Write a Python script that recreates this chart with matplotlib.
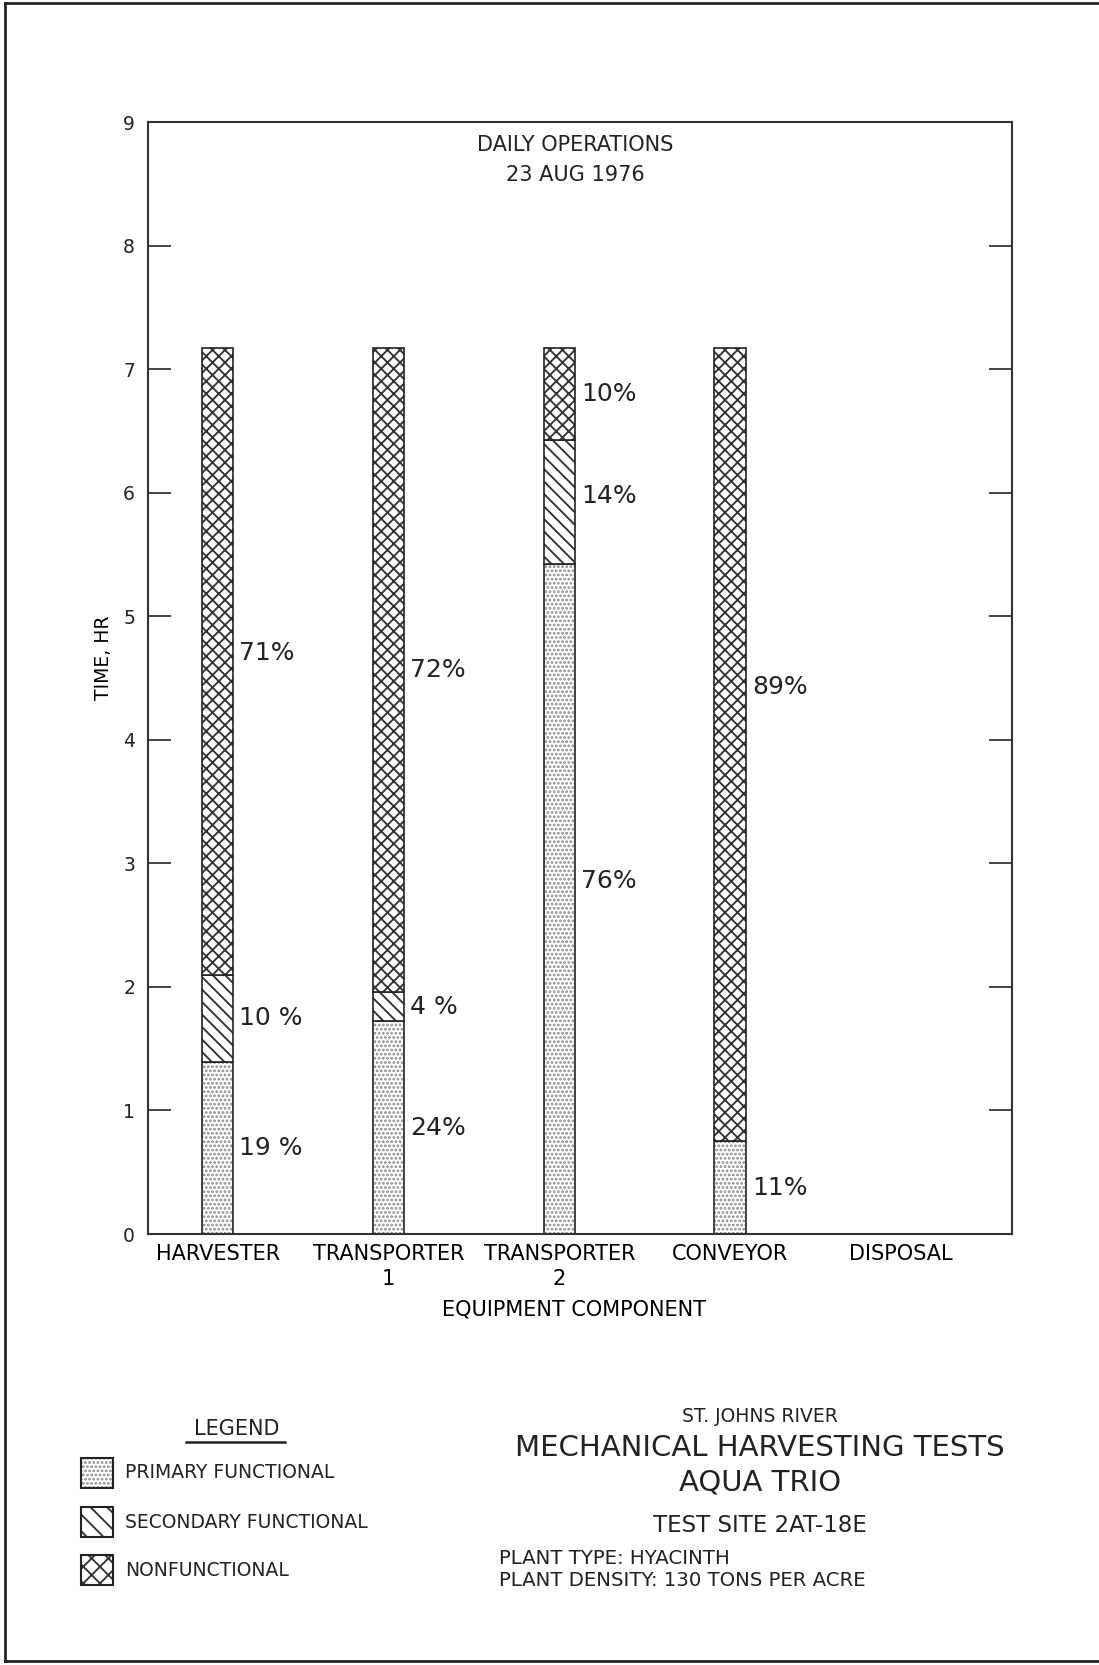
import matplotlib

matplotlib.use("Agg")
import matplotlib.pyplot as plt
from matplotlib.patches import Rectangle
from matplotlib.lines import Line2D
import numpy as np

# Data (hours per equipment component, 23 Aug 1976)
components = ["HARVESTER", "TRANSPORTER\n1", "TRANSPORTER\n2", "CONVEYOR", "DISPOSAL"]
primary = [1.39, 1.72, 5.42, 0.75, 0.0]
secondary = [0.71, 0.24, 1.01, 0.0, 0.0]
nonfunctional = [5.07, 5.21, 0.74, 6.42, 0.0]

primary_pct = ["19 %", "24%", "76%", "11%", ""]
secondary_pct = ["10 %", "4 %", "14%", "", ""]
nonfunctional_pct = ["71%", "72%", "10%", "89%", ""]

INK = "#222222"
plt.rcParams["font.family"] = ["DejaVu Sans"]
plt.rcParams["hatch.linewidth"] = 0.9
plt.rcParams["text.color"] = INK

W, H, DPI = 1099, 1665, 150
fig = plt.figure(figsize=(W / DPI, H / DPI), dpi=DPI)
ax = fig.add_axes([148 / W, 1 - 1234 / H, 864 / W, 1112 / H])

x = np.arange(len(components))
width = 0.184
series = [
    (np.array(primary), "......", "#8a8a8a", primary_pct),
    (np.array(secondary), "\\\\\\\\", "#333333", secondary_pct),
    (np.array(nonfunctional), "xxxx", "#333333", nonfunctional_pct),
]

# small label nudges (hours) where the original lettering sits off-centre
nudge = {(2, 0): 0.15, (3, 2): 0.47, (2, 1): 0.05, (0, 2): 0.07}

bottom = np.zeros(len(components))
for si, (vals, hatch, hcol, pcts) in enumerate(series):
    mask = vals > 0
    ax.bar(x[mask], vals[mask], width, bottom=bottom[mask], facecolor="white",
           edgecolor=hcol, hatch=hatch, linewidth=0)
    ax.bar(x[mask], vals[mask], width, bottom=bottom[mask], fill=False,
           edgecolor=INK, linewidth=0.8)
    for i in np.where(mask)[0]:
        ymid = bottom[i] + vals[i] / 2 + nudge.get((i, si), 0)
        ax.text(x[i] + width / 2 + 0.035, ymid, pcts[i], ha="left", va="center",
                fontsize=12)
    bottom = bottom + vals

ax.set_xlim(-0.408, 4.650)
ax.set_ylim(0, 9)
ax.set_yticks(range(10))
ax.set_xticks(x)
ax.set_xticklabels(components, fontsize=10, linespacing=1.3)
ax.tick_params(axis="x", length=0, pad=5)
ax.tick_params(axis="y", direction="in", length=11, width=0.8, right=True,
               labelsize=9, pad=6.2, colors=INK)
for sp in ax.spines.values():
    sp.set_linewidth(1.0)
    sp.set_color("#333333")

ax.set_ylabel("TIME, HR", fontsize=9)
ax.yaxis.set_label_coords(-0.0405, 0.518)
ax.set_xlabel("EQUIPMENT COMPONENT", fontsize=10)
ax.xaxis.set_label_coords(0.493, -0.0585)

ax.text(0.495, 0.9789, "DAILY OPERATIONS", transform=ax.transAxes, ha="center",
        va="center", fontsize=10)
ax.text(0.495, 0.9523, "23 AUG 1976", transform=ax.transAxes, ha="center",
        va="center", fontsize=10)

# Legend block (bottom left)
def fy(py):
    return 1 - py / H

fig.text(237 / W, fy(1429), "LEGEND", ha="center", va="center", fontsize=10)
fig.add_artist(Line2D([186 / W, 285 / W], [fy(1442), fy(1442)], color=INK, lw=1.2))
legend_items = [
    ("PRIMARY FUNCTIONAL", "......", "#8a8a8a", 1473),
    ("SECONDARY FUNCTIONAL", "\\\\\\", "#333333", 1522),
    ("NONFUNCTIONAL", "xxx", "#333333", 1570),
]
for label, hatch, hcol, cy in legend_items:
    fig.add_artist(Rectangle((81 / W, fy(cy + 15)), 32 / W, 30 / H, facecolor="white",
                             edgecolor=hcol, hatch=hatch, linewidth=0,
                             transform=fig.transFigure))
    fig.add_artist(Rectangle((81 / W, fy(cy + 15)), 32 / W, 30 / H, fill=False,
                             edgecolor=INK, linewidth=1.0, transform=fig.transFigure))
    fig.text(125 / W, fy(cy), label, ha="left", va="center", fontsize=9)

# Title block (bottom right)
fig.text(760 / W, fy(1416), "ST. JOHNS RIVER", ha="center", va="center", fontsize=9)
fig.text(760 / W, fy(1448), "MECHANICAL HARVESTING TESTS", ha="center", va="center",
         fontsize=14)
fig.text(760 / W, fy(1483), "AQUA TRIO", ha="center", va="center", fontsize=14)
fig.text(760 / W, fy(1526), "TEST SITE 2AT-18E", ha="center", va="center", fontsize=11)
fig.text(499 / W, fy(1558), "PLANT TYPE: HYACINTH", ha="left", va="center", fontsize=9.5)
fig.text(499 / W, fy(1581), "PLANT DENSITY: 130 TONS PER ACRE", ha="left", va="center",
         fontsize=9.5)

# Page frame
for xs, ys in [([5, 5], [3, 1661]), ([5, W], [3, 3]), ([5, W], [1661, 1661])]:
    fig.add_artist(Line2D([v / W for v in xs], [fy(v) for v in ys], color=INK, lw=1.3))

fig.savefig("out.png", dpi=DPI, facecolor="white")
